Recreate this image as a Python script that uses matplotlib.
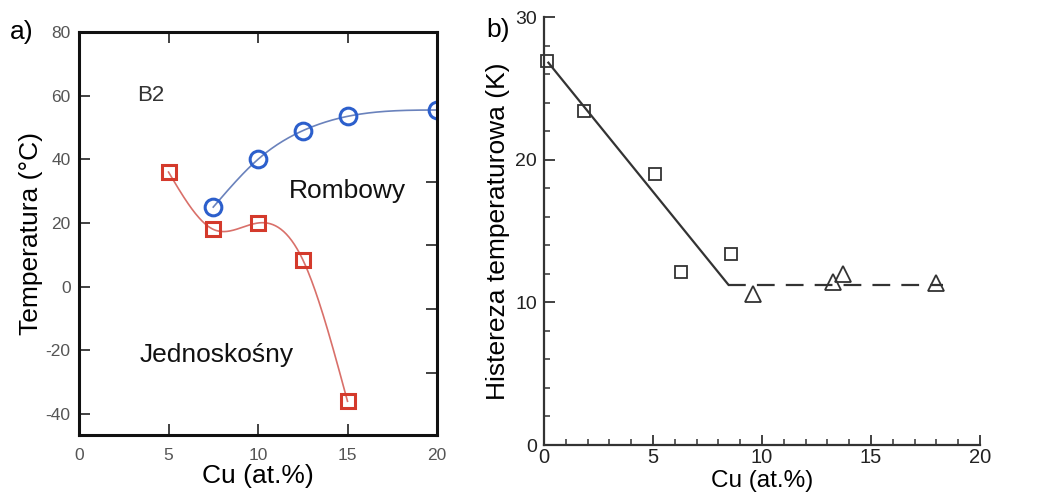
import numpy as np
import matplotlib
matplotlib.use("Agg")
import matplotlib.pyplot as plt
from matplotlib.ticker import MultipleLocator

plt.rcParams['font.family'] = ['Liberation Sans', 'DejaVu Sans']
plt.rcParams['axes.unicode_minus'] = False

# ---- data panel a ----
cu_rhomb = [7.5, 10, 12.5, 15, 20]
t_rhomb = [25, 40, 49, 53.5, 55.5]
cu_mono = [5, 7.5, 10, 12.5, 15]
t_mono = [36, 18, 20, 8.5, -36]

# ---- data panel b ----
cu_sq = [0.15, 1.85, 5.1, 6.3, 8.6]
h_sq = [26.9, 23.4, 19.0, 12.1, 13.4]
cu_tri = [9.57, 13.24, 13.73, 17.98]
h_tri = [10.6, 11.4, 12.0, 11.35]
fit_solid_x = [0.2, 8.45]
fit_solid_y = [26.8, 11.25]
fit_dash_x = [8.45, 18.3]
fit_dash_y = [11.25, 11.25]


def natural_spline(x, y, n=200):
    x = np.asarray(x, float); y = np.asarray(y, float)
    k = len(x)
    h = np.diff(x)
    A = np.zeros((k, k)); b = np.zeros(k)
    A[0, 0] = 1; A[-1, -1] = 1
    for i in range(1, k - 1):
        A[i, i - 1] = h[i - 1]
        A[i, i] = 2 * (h[i - 1] + h[i])
        A[i, i + 1] = h[i]
        b[i] = 6 * ((y[i + 1] - y[i]) / h[i] - (y[i] - y[i - 1]) / h[i - 1])
    M = np.linalg.solve(A, b)
    xs = np.linspace(x[0], x[-1], n)
    ys = np.empty_like(xs)
    for j, xv in enumerate(xs):
        i = min(np.searchsorted(x, xv) - 1, k - 2)
        i = max(i, 0)
        t0 = x[i + 1] - xv; t1 = xv - x[i]
        ys[j] = (M[i] * t0**3 + M[i + 1] * t1**3) / (6 * h[i]) + \
                (y[i] / h[i] - M[i] * h[i] / 6) * t0 + \
                (y[i + 1] / h[i] - M[i + 1] * h[i] / 6) * t1
    return xs, ys


W, H = 1038, 493
fig = plt.figure(figsize=(W / 100, H / 100), dpi=100)

def px_axes(l, t, r, b):
    return fig.add_axes([l / W, 1 - b / H, (r - l) / W, (b - t) / H])

# ---------------- panel a ----------------
ax = px_axes(79, 32, 437, 435)
ax.set_xlim(0, 20)
ax.set_ylim(-46.6, 79.8)
red = '#d43a2c'
blue = '#2c5fcc'
xs, ys = natural_spline(cu_mono, t_mono)
ax.plot(xs, ys, color='#d9706a', lw=1.2)
xs, ys = natural_spline(cu_rhomb, t_rhomb)
ax.plot(xs, ys, color='#6a82bc', lw=1.2)
ax.plot(cu_mono, t_mono, ls='none', marker='s', ms=9.5, mfc='none', mec=red, mew=2.2)
ax.plot(cu_rhomb, t_rhomb, ls='none', marker='o', ms=12, mfc='none', mec=blue, mew=2.2)
for s in ax.spines.values():
    s.set_linewidth(2.2)
    s.set_color('#111111')
ax.set_xticks([0, 5, 10, 15, 20])
ax.set_xticklabels(['0', '5', '10', '15', '20'])
ax.set_yticks([80, 60, 40, 20, 0, -20, -40])
ax.tick_params(axis='both', direction='in', length=8, width=1.3, color='#333333',
               labelsize=12.5, labelcolor='#555555', pad=8)
ax.tick_params(axis='x', top=True, pad=9)
ax.tick_params(axis='y', pad=6)
sec = ax.secondary_yaxis('right')
sec.set_yticks([33, 13, -7, -27])
sec.tick_params(direction='in', length=8, width=1.3, color='#333333', labelright=False)
sec.spines['right'].set_visible(False)
ax.set_xlabel('Cu (at.%)', fontsize=19, labelpad=1)
ax.set_ylabel('Temperatura (°C)', fontsize=19, labelpad=2)
ax.text(4.0, 60, 'B2', fontsize=16, color='#333333', ha='center', va='center')
ax.text(15.0, 30, 'Rombowy', fontsize=19, color='#111111', ha='center', va='center')
ax.text(7.7, -21.5, 'Jednoskośny', fontsize=19, color='#111111', ha='center', va='center')
fig.text(10 / W, 1 - 32 / H, 'a)', fontsize=19, ha='left', va='center')

# ---------------- panel b ----------------
bx = px_axes(544, 17, 980, 445)
bx.set_xlim(0, 20)
bx.set_ylim(0, 30)
bx.spines['top'].set_visible(False)
bx.spines['right'].set_visible(False)
for s in ('left', 'bottom'):
    bx.spines[s].set_linewidth(1.6)
    bx.spines[s].set_color('#333333')
bx.plot(fit_solid_x, fit_solid_y, color='#333333', lw=1.6)
bx.plot(fit_dash_x, fit_dash_y, color='#333333', lw=1.6, dashes=(8, 5))
bx.plot(cu_sq, h_sq, ls='none', marker='s', ms=9, mfc='none', mec='#333333', mew=1.3, clip_on=False)
bx.plot(cu_tri, h_tri, ls='none', marker='^', ms=12, mfc='none', mec='#333333', mew=1.3, clip_on=False)
bx.xaxis.set_major_locator(MultipleLocator(5))
bx.xaxis.set_minor_locator(MultipleLocator(1))
bx.yaxis.set_major_locator(MultipleLocator(10))
bx.yaxis.set_minor_locator(MultipleLocator(2))
bx.tick_params(which='major', direction='in', length=8, width=1.3, color='#333333',
               labelcolor='#222222')
bx.tick_params(which='minor', direction='in', length=4, width=1.1, color='#333333')
bx.tick_params(axis='x', which='major', direction='in', length=7, pad=2, labelsize=14.5)
bx.tick_params(axis='x', which='minor', direction='in', length=4)
bx.tick_params(axis='y', pad=5, labelsize=14)
bx.set_xlabel('Cu (at.%)', fontsize=17.5)
bx.xaxis.label.set_va('center')
bx.xaxis.set_label_coords(0.5, -(481 - 445) / 428)
bx.set_ylabel('Histereza temperaturowa (K)', fontsize=19, labelpad=4)
fig.text(486 / W, 1 - 30 / H, 'b)', fontsize=19, ha='left', va='center')

fig.savefig('out.png', dpi=100)
